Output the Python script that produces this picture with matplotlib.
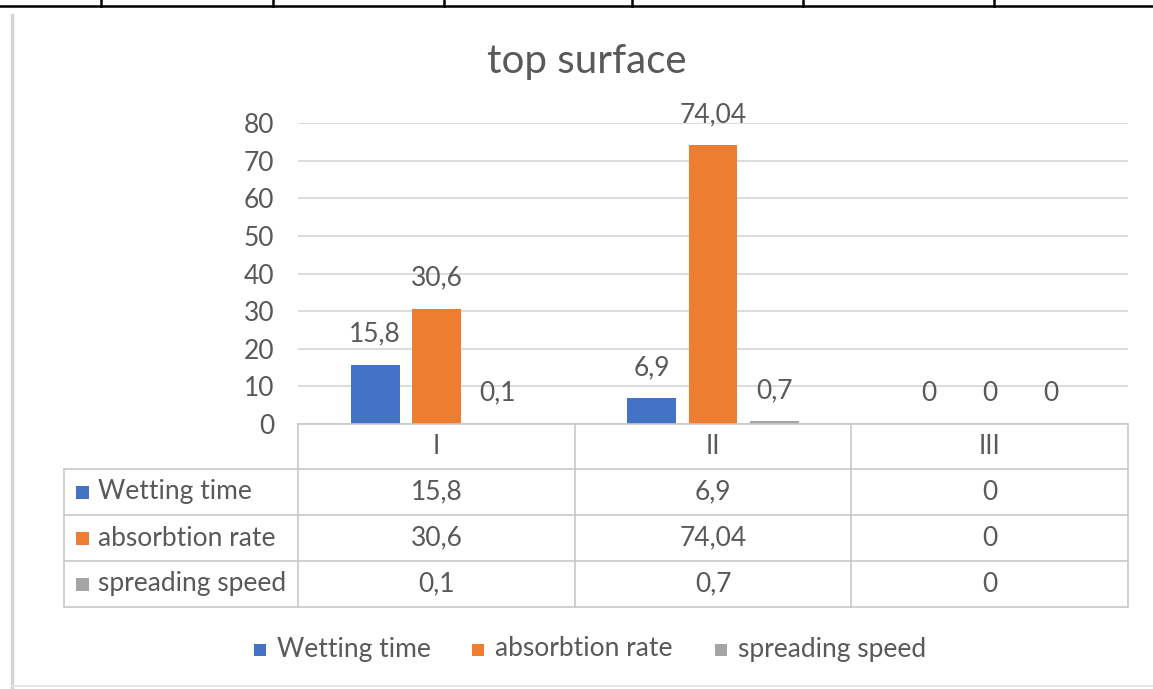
import matplotlib
matplotlib.use("Agg")
import matplotlib.pyplot as plt
from matplotlib.lines import Line2D
from matplotlib.patches import Rectangle

# ---- data ----
categories = ["I", "II", "III"]
series_names = ["Wetting time", "absorbtion rate", "spreading speed"]
wetting_time = [15.8, 6.9, 0]
absorbtion_rate = [30.6, 74.04, 0]
spreading_speed = [0.1, 0.7, 0]
y_ticks = [0, 10, 20, 30, 40, 50, 60, 70, 80]

series_values = [wetting_time, absorbtion_rate, spreading_speed]
colors = ["#4472C4", "#ED7D31", "#A5A5A5"]
TEXT = "#595959"
GRID = "#D9D9D9"
BORDER = "#C8C8C8"
FS = 19

plt.rcParams["font.family"] = ["Lato", "DejaVu Sans"]

W, H = 1153, 689
fig = plt.figure(figsize=(W / 100, H / 100), dpi=100)
fig.patch.set_facecolor("white")


def fx(px):
    return px / W


def fy(py):
    return 1 - py / H


def fmt(v):
    return f"{v:g}".replace(".", ",")


# plot area
left_px, right_px, top_px, bottom_px = 298, 1128, 123, 424
ax = fig.add_axes([fx(left_px), fy(bottom_px), fx(right_px - left_px),
                   (bottom_px - top_px) / H])
ax.set_xlim(-0.5, len(categories) - 0.5)
ax.set_ylim(0, 80)
ax.set_yticks(y_ticks)
ax.set_yticklabels([str(t) for t in y_ticks])
ax.set_xticks([])
ax.tick_params(axis="y", length=0, pad=17, labelsize=FS, labelcolor=TEXT)
for s in ax.spines.values():
    s.set_visible(False)
ax.grid(axis="y", color=GRID, linewidth=1.3)
ax.set_axisbelow(True)

bar_w = 0.177
step = 0.221
for i, (vals, col) in enumerate(zip(series_values, colors)):
    xs = [k + (i - 1) * step for k in range(len(categories))]
    ax.bar(xs, vals, width=bar_w, color=col, zorder=3)
    for x, v in zip(xs, vals):
        ax.annotate(fmt(v), (x, v), xytext=(0, 22), textcoords="offset points",
                    ha="center", va="center", fontsize=FS, color=TEXT,
                    zorder=4)

ax.text(fx(587), fy(61), "top surface", transform=fig.transFigure, ha="center",
        va="center", fontsize=29, color=TEXT)

# ---- data table under the plot ----
def hline(x0, x1, y, color=BORDER, lw=1.2):
    fig.add_artist(Line2D([fx(x0), fx(x1)], [fy(y), fy(y)], color=color, lw=lw))


def vline(x, y0, y1, color=BORDER, lw=1.2):
    fig.add_artist(Line2D([fx(x), fx(x)], [fy(y0), fy(y1)], color=color, lw=lw))


table_left = 64
col_edges = [298, 575, 851, 1128]
row_edges = [424, 469, 515, 561, 607]

hline(col_edges[0], col_edges[-1], row_edges[0])
for y in row_edges[1:]:
    hline(table_left, col_edges[-1], y)
for x in col_edges:
    vline(x, row_edges[0], row_edges[-1])
vline(table_left, row_edges[1], row_edges[-1])

for j, cat in enumerate(categories):
    cx = (col_edges[j] + col_edges[j + 1]) / 2
    fig.text(fx(cx), fy((row_edges[0] + row_edges[1]) / 2), cat, ha="center",
             va="center", fontsize=FS, color=TEXT)

for i, (name, vals, col) in enumerate(zip(series_names, series_values, colors)):
    cy = (row_edges[i + 1] + row_edges[i + 2]) / 2
    fig.add_artist(Rectangle((fx(76), fy(cy + 7)), fx(13), 13 / H,
                             transform=fig.transFigure, color=col, lw=0))
    fig.text(fx(98), fy(cy), name, ha="left", va="center", fontsize=FS,
             color=TEXT)
    for j, v in enumerate(vals):
        cx = (col_edges[j] + col_edges[j + 1]) / 2
        fig.text(fx(cx), fy(cy), fmt(v), ha="center", va="center",
                 fontsize=FS, color=TEXT)

# ---- legend ----
legend_items = [(254, 277), (472, 495), (715, 738)]
for (sx, tx), name, col in zip(legend_items, series_names, colors):
    fig.add_artist(Rectangle((fx(sx), fy(656)), fx(12), 12 / H,
                             transform=fig.transFigure, color=col, lw=0))
    fig.text(fx(tx), fy(649), name, ha="left", va="center", fontsize=FS,
             color=TEXT)

# ---- page frame around the chart ----
fig.add_artist(Line2D([fx(12), fx(12)], [fy(15), fy(H)], color="#D4D4D4", lw=2.5))
hline(12, W, 686, color="#E2E2E2", lw=1.2)
hline(0, W, 6, color="black", lw=1.8)
for x in [101, 273, 444, 632, 803, 994]:
    vline(x, 0, 6, color="black", lw=1.8)

fig.savefig("out.png", dpi=100)
